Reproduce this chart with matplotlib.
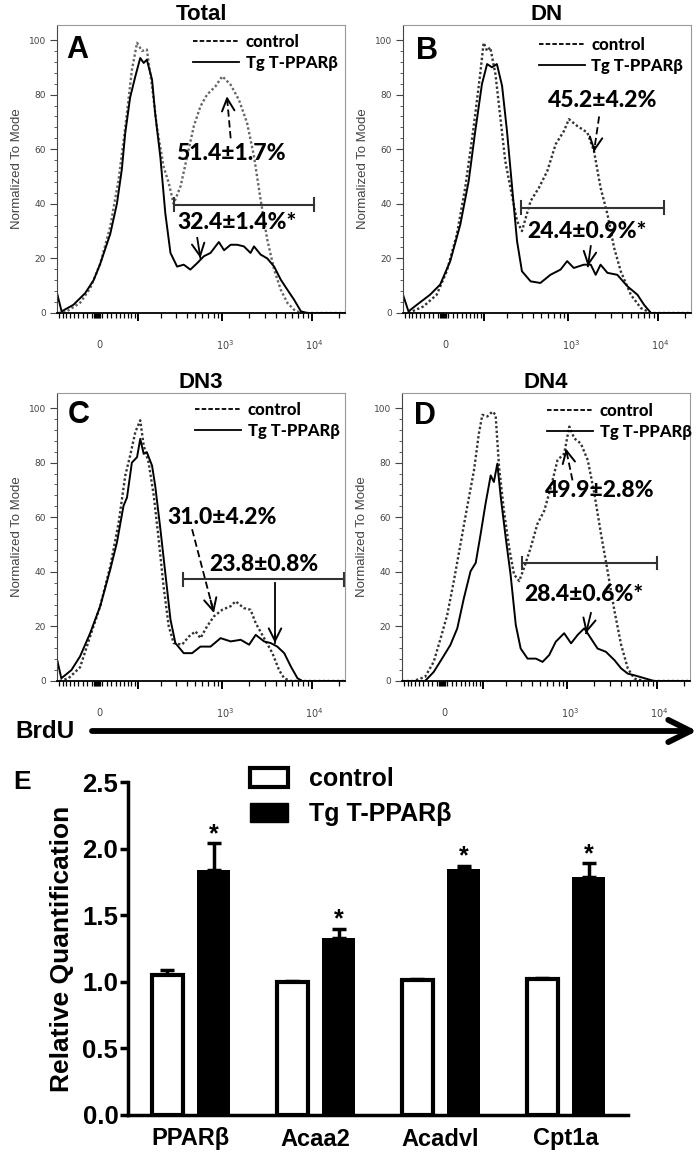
import numpy as np
import matplotlib
matplotlib.use("Agg")
import matplotlib.pyplot as plt
from matplotlib.patches import Patch
from matplotlib.lines import Line2D

SANS = ["Liberation Sans", "DejaVu Sans"]
CAL = ["Lato", "DejaVu Sans"]

# ---- flow histograms: x in display channel (0-100 across the plot), y = % of mode
a_ctl_x = [0.5, 3.4, 8, 11.5, 15, 18.5, 21.4, 23.7, 26, 27.8, 29.5, 31.2, 33, 34.7, 37, 38.8, 40.5, 42.9,
           45.2, 47.5, 49.8, 52.1, 55, 57.4, 60.3, 63.2, 66, 68.4, 70.7, 73, 75.4, 77.7, 80, 82.3, 84.7, 100]
a_ctl_y = [0, 0.6, 3.7, 9, 18, 31.7, 49, 68, 89, 99, 96, 96.5, 83, 68, 53.7, 47.6, 40, 46.4,
           57.4, 68.4, 75.7, 80, 83, 86.7, 83.6, 78, 69.6, 57.4, 41.5, 26.9, 15.9, 8.5, 3.7, 1.2, 0, 0]
a_tg_x = [0, 1.6, 5.7, 9.8, 12.7, 15, 18.5, 20.8, 22.5, 23.7, 25.4, 27.2, 28.9, 30.1, 31.2, 33, 34.1, 35.9,
          37.6, 39.4, 41.7, 44, 46.3, 48.7, 51, 53.3, 56.2, 58, 60.3, 62.6, 64.9, 67.2, 68.4, 70.7, 73,
          75.4, 77.7, 80, 82.3, 84.7, 87, 100]
a_tg_y = [7.3, 0.6, 3, 7.3, 12, 18, 29, 40, 52.5, 66, 79, 86.7, 93.4, 91.6, 92.8, 85.5, 73, 57,
          36.6, 22, 17, 17.7, 15.9, 18.3, 20.8, 22, 26, 23, 25, 25, 24.4, 22, 24.4, 21.4, 20,
          17, 12.2, 8.5, 4.9, 0.6, 0, 0]

b_ctl_x = [1.9, 7.1, 11.7, 15.2, 18.7, 21.6, 24.5, 26.8, 28, 29.2, 30.3, 32.1, 33.8, 35.5, 37.3, 39.6, 41.3,
           44.3, 47.2, 50.1, 53, 55.9, 57.6, 60.5, 64, 66.3, 68.6, 71, 73.3, 75.6, 79.1, 82.6, 86.1, 100]
b_ctl_y = [0, 2.4, 6.7, 15.3, 28.8, 45.9, 67.9, 87.5, 99, 96, 97.3, 87.5, 71.6, 55.7, 45.9, 33.7, 30,
           41, 45.9, 52, 61.8, 66.7, 71, 68.5, 66.1, 59.4, 45.9, 36.1, 23.9, 15.3, 6.7, 1.8, 0, 0]
b_tg_x = [0, 1.9, 4.8, 9.4, 12.9, 16.4, 19.9, 22.8, 25.1, 27.4, 29.2, 30.9, 32.6, 34.4, 36.1, 37.9, 39.6,
          41.3, 44.3, 47.7, 51.2, 54.7, 57, 59.3, 62.8, 65.2, 66.9, 68.6, 71, 74.4, 77.9, 81.4, 83.7, 86.1, 100]
b_tg_y = [6.7, 0.6, 3, 6.7, 10.4, 19, 32.4, 48.3, 66.7, 83.8, 91.2, 90, 91.2, 83.2, 66.7, 45.9, 26.3,
          15.3, 11.6, 11, 14, 15.9, 19, 16.5, 17.7, 17.7, 14, 17.7, 14.7, 14, 9.8, 6.7, 3, 0, 0]

c_ctl_x = [1, 4, 8, 11.5, 15, 18.5, 21.4, 23.7, 25.4, 27.2, 28.9, 30.1, 31.8, 33.6, 35.3, 37, 38.8, 40.5,
           43.4, 45.8, 48.1, 49.8, 52.1, 54.5, 57.4, 60.3, 62, 64.9, 67.2, 69, 71.9, 74.8, 77.1, 78.9, 81.2, 100]
c_ctl_y = [0, 1, 5, 16.3, 27.4, 42, 58, 75.2, 82.6, 91.2, 95.5, 86.3, 80.1, 67.9, 51.9, 34.7, 20, 13.9,
           13.3, 16.3, 18.2, 15.7, 20, 23.7, 26.1, 27.4, 29.2, 26.7, 26.1, 21.2, 15.7, 10.2, 4, 1, 0, 0]
c_tg_x = [0, 1.5, 5, 8, 11.5, 15, 18.5, 20.8, 23.1, 24.3, 26, 27.8, 28.9, 30.1, 31.2, 33, 34.1, 35.9, 37.6,
          39.4, 41.1, 44, 46.9, 49.8, 53.3, 56.8, 60.3, 63.8, 66.7, 69, 71.9, 74.2, 76.5, 78.9, 81.2, 83.5, 85.2, 100]
c_tg_y = [8, 1, 4, 9, 17.5, 27.4, 40.9, 50.7, 64.2, 67.2, 80, 82, 88.7, 83.2, 83.8, 78.9, 71.5, 55.6, 39.6,
          22.5, 13.9, 10.2, 10.2, 12.6, 12.6, 15.7, 14.5, 15.1, 13.3, 16.9, 14.5, 13.9, 12.6, 10.2, 5.3, 1, 0, 0]

d_ctl_x = [0, 4, 8, 11, 13.4, 15.7, 18, 20.3, 22.6, 25, 26.7, 27.9, 29.6, 31.4, 32.5, 33.7, 35.4, 37.2, 38.9,
           40.7, 42.4, 44.7, 47, 49.4, 51.7, 54, 56.3, 58.1, 59.8, 62.1, 64.5, 66.8, 69.1, 71.4, 73.8, 76.1,
           78.4, 80.7, 84, 100]
d_ctl_y = [0, 0, 1.5, 7, 15.6, 24.2, 36.6, 50.1, 63.6, 77.2, 90.7, 97.5, 96.9, 98.7, 97.5, 78.4, 62.4, 48.9, 39,
           36.6, 41.5, 48.9, 57.5, 62.4, 71, 80.9, 83.3, 93.2, 88.9, 87, 80.9, 68.6, 53.8, 40.2, 25.5, 13.2,
           4.6, 0.9, 0, 0]
d_tg_x = [0, 8, 11, 13.9, 16.8, 19.2, 21.5, 23.8, 25.6, 27.3, 29, 30.8, 31.9, 33.1, 34.3, 36, 37.7, 39.5,
          41.2, 43.6, 46.5, 48.8, 51.1, 53.4, 56.3, 58.7, 61, 63.3, 65.6, 67.9, 70.8, 73.8, 76.1, 78.4, 81,
          87.5, 100]
d_tg_y = [0, 0, 3.3, 8.2, 13.2, 19.3, 30.4, 40.2, 43.3, 53.8, 64.9, 75.3, 72.9, 79.6, 67.3, 52.6, 39, 20.6,
          11.9, 8.2, 8.2, 7, 9.5, 14.4, 17.5, 13.8, 16.9, 19.3, 15.6, 11.9, 10.7, 7.6, 4.6, 2.7, 2,
          0, 0]

titles = ["Total", "DN", "DN3", "DN4"]
letters = ["A", "B", "C", "D"]
ctl_pct = ["51.4±1.7%", "45.2±4.2%", "31.0±4.2%", "49.9±2.8%"]
tg_pct = ["32.4±1.4%*", "24.4±0.9%*", "23.8±0.8%", "28.4±0.6%*"]
# gate: (start, end, height)
gates = [(40.5, 89.3, 39.7), (40.8, 90.5, 38.6), (43.8, 99.6, 37.2), (41.5, 88.6, 43.3)]

# ---- qPCR bars
genes = ["PPARβ", "Acaa2", "Acadvl", "Cpt1a"]
ctrl_mean = [1.05, 1.00, 1.01, 1.02]
ctrl_sem = [0.04, 0.005, 0.008, 0.01]
tg_mean = [1.84, 1.33, 1.85, 1.79]
tg_sem = [0.20, 0.07, 0.02, 0.10]


def chan(v):
    # biexponential-like display transform used for the BrdU axis
    return 13.9 + 13.5 * np.arcsinh(np.asarray(v, float) / 80.0)


def arrow(ax, x0, y0, x1, y1, dashed):
    ax.plot([x0, x1], [y0, y1], color="k", lw=1.3, ls=(0, (4, 2)) if dashed else "-")
    ax.annotate("", xy=(x1, y1), xytext=(x0 + 0.85 * (x1 - x0), y0 + 0.85 * (y1 - y0)),
                arrowprops=dict(arrowstyle="->,head_length=0.9,head_width=0.45", lw=1.4,
                                color="k", shrinkA=0, shrinkB=0))


def draw_hist(ax, i, ctl_x, ctl_y, tg_x, tg_y, ctl_txt, tg_txt, ctl_arr, tg_arr, letter_xy, leg_xy, ctl_col):
    ax.plot(ctl_x, ctl_y, color=ctl_col, lw=1.7, ls=(0, (1, 1)))
    ax.plot(tg_x, tg_y, color="k", lw=1.4)
    ax.set_xlim(0, 100)
    ax.set_ylim(0, 105.5)

    g0, g1, gy = gates[i]
    ax.plot([g0, g1], [gy, gy], color="#333", lw=1.5)
    ax.plot([g0, g0], [gy - 2.3, gy + 2.3], color="#333", lw=1.5)
    ax.plot([g1, g1], [gy - 2.3, gy + 2.3], color="#333", lw=1.5)

    ax.text(ctl_txt[0], ctl_txt[1], ctl_pct[i], ha="center", va="center", fontsize=16.5,
            fontweight="black", family=CAL)
    ax.text(tg_txt[0], tg_txt[1], tg_pct[i], ha="center", va="center", fontsize=16.5,
            fontweight="black", family=CAL)
    arrow(ax, *ctl_arr, dashed=True)
    arrow(ax, *tg_arr, dashed=False)

    ax.text(letter_xy[0], letter_xy[1], letters[i], ha="center", va="center", fontsize=22,
            fontweight="bold", family=SANS)
    ax.set_title(titles[i], fontsize=16, fontweight="bold", family=SANS, pad=3)

    handles = [Line2D([], [], color="k", lw=1.3, ls=(0, (2.5, 1.2))),
               Line2D([], [], color="k", lw=1.3)]
    ax.legend(handles, ["control", "Tg T-PPARβ"], loc="upper left", bbox_to_anchor=leg_xy,
              frameon=False, prop=dict(family=CAL, weight="black", size=12),
              handlelength=2.75, handletextpad=0.4, labelspacing=0.3,
              borderpad=0, borderaxespad=0)

    # axes styling (FlowJo look)
    for s in ["top", "right"]:
        ax.spines[s].set_color("#999")
        ax.spines[s].set_linewidth(0.8)
    ax.spines["left"].set_color("#444")
    ax.spines["left"].set_linewidth(0.8)
    ax.spines["bottom"].set_color("k")
    ax.spines["bottom"].set_linewidth(1.3)

    ax.set_yticks(range(0, 101, 20))
    ax.set_yticks(range(0, 101, 4), minor=True)
    ax.tick_params(axis="y", which="major", length=5, width=0.8, labelsize=6.5,
                   colors="#444", pad=3)
    ax.tick_params(axis="y", which="minor", length=2.5, width=0.6, colors="#444")
    ax.set_ylabel("Normalized To Mode", fontsize=9.5, color="#444", family=SANS, labelpad=4)

    ax.set_xticks(chan([100, 1000, 10000]))
    ax.set_xticklabels([])
    minor_v = list(range(-90, -9, 10)) + [-6, -4, -2, 0, 2, 4, 6] + list(range(10, 91, 10)) \
        + list(range(200, 901, 100)) + list(range(2000, 9001, 1000)) + [20000]
    ax.set_xticks(chan(minor_v), minor=True)
    ax.tick_params(axis="x", which="major", length=6, width=1.4, color="k")
    ax.tick_params(axis="x", which="minor", length=3.5, width=0.9, color="k")
    for v, s in zip([0, 1000, 10000], ["0", r"$10^3$", r"$10^4$"]):
        ax.text(chan(v) + 1, -0.11, s, transform=ax.get_xaxis_transform(),
                ha="center", va="center", fontsize=7, color="#444")


fig = plt.figure(figsize=(7, 11.61), dpi=100)

W, H = 700.0, 1161.0
axA = fig.add_axes([57 / W, (H - 313) / H, 288 / W, 288 / H])
axB = fig.add_axes([403 / W, (H - 313) / H, 288 / W, 288 / H])
axC = fig.add_axes([57 / W, (H - 681) / H, 288 / W, 288 / H])
axD = fig.add_axes([402 / W, (H - 681) / H, 288 / W, 288 / H])

draw_hist(axA, 0, a_ctl_x, a_ctl_y, a_tg_x, a_tg_y, (60.3, 58.6), (62.6, 33),
          (60.3, 64, 59, 79.4), (48.7, 27.5, 49.8, 20.1), (6.9, 96.5), (0.473, 0.97), "#666")
draw_hist(axB, 1, b_ctl_x, b_ctl_y, b_tg_x, b_tg_y, (69.2, 77.7), (64, 30),
          (68.1, 72, 66.3, 59), (65.2, 24.5, 64.2, 17.1), (8.2, 96), (0.472, 0.96), "#333")
draw_hist(axC, 2, c_ctl_x, c_ctl_y, c_tg_x, c_tg_y, (57.4, 59.9), (71.9, 42.7),
          (46.9, 55.6, 54.5, 24.9), (75.7, 36, 75.7, 13.9), (7.4, 97.3), (0.48, 0.97), "#333")
draw_hist(axD, 3, d_ctl_x, d_ctl_y, d_tg_x, d_tg_y, (68.5, 69.8), (63.3, 31.6),
          (59.2, 73.5, 56.9, 85.2), (65.6, 24.9, 63.9, 17.5), (8.1, 96.9), (0.505, 0.965), "#333")

# ---- panel E: bar chart
axE = fig.add_axes([128 / W, (H - 1115) / H, 500 / W, 333 / H])
x = np.arange(len(genes))
off, bw = 0.186, 0.25
axE.bar(x - off, ctrl_mean, bw, color="white", edgecolor="k", linewidth=3, zorder=3)
axE.bar(x + off, tg_mean, bw + 0.012, color="k", edgecolor="k", linewidth=0, zorder=3)
axE.errorbar(x - off, ctrl_mean, yerr=[np.zeros(4), ctrl_sem], fmt="none", ecolor="k",
             elinewidth=2.5, capsize=5, capthick=2.5, zorder=2)
axE.errorbar(x + off, tg_mean, yerr=[np.zeros(4), tg_sem], fmt="none", ecolor="k",
             elinewidth=2.5, capsize=5, capthick=2.5, zorder=2)
for xi, m, s in zip(x + off, tg_mean, tg_sem):
    axE.text(xi, m + s - 0.02, "*", ha="center", va="bottom", fontsize=18,
             fontweight="bold", family=SANS)

axE.set_xlim(-0.5, 3.5)
axE.set_ylim(0, 2.5)
axE.spines["top"].set_visible(False)
axE.spines["right"].set_visible(False)
axE.spines["left"].set_linewidth(2.5)
axE.spines["bottom"].set_linewidth(2.5)
axE.set_yticks(np.arange(0, 2.51, 0.5))
axE.set_yticklabels([f"{v:.1f}" for v in np.arange(0, 2.51, 0.5)], fontsize=18.5,
                    fontweight="bold", family=SANS)
axE.tick_params(axis="y", length=6, width=2.5, pad=1)
axE.set_xticks(x)
axE.set_xticklabels(genes, fontsize=17, fontweight="bold", family=SANS)
axE.tick_params(axis="x", length=0, pad=9)
axE.set_ylabel("Relative Quantification", fontsize=19, fontweight="bold", family=SANS, labelpad=6)

leg_handles = [Patch(facecolor="white", edgecolor="k", linewidth=3),
               Patch(facecolor="k", edgecolor="k")]
axE.legend(leg_handles, ["control", "Tg T-PPARβ"], loc="upper left", bbox_to_anchor=(0.244, 1.045),
           frameon=False, prop=dict(family=SANS, weight="bold", size=18),
           handlelength=1.5, handleheight=0.8, handletextpad=0.85, labelspacing=0.45,
           borderpad=0, borderaxespad=0)

# ---- figure-level labels (pixel coordinates)
ov = fig.add_axes([0, 0, 1, 1])
ov.set_xlim(0, W)
ov.set_ylim(H, 0)
ov.axis("off")
ov.text(45, 731, "BrdU", ha="center", va="center", fontsize=17.5, fontweight="bold", family=SANS)
ov.annotate("", xy=(697, 731), xytext=(92, 731),
            arrowprops=dict(arrowstyle="->,head_length=1.6,head_width=0.8", lw=4.2,
                            color="k", shrinkA=0, shrinkB=0))
ov.text(22, 782, "E", ha="center", va="center", fontsize=19, fontweight="bold", family=SANS)

fig.savefig("out.png", dpi=100)
